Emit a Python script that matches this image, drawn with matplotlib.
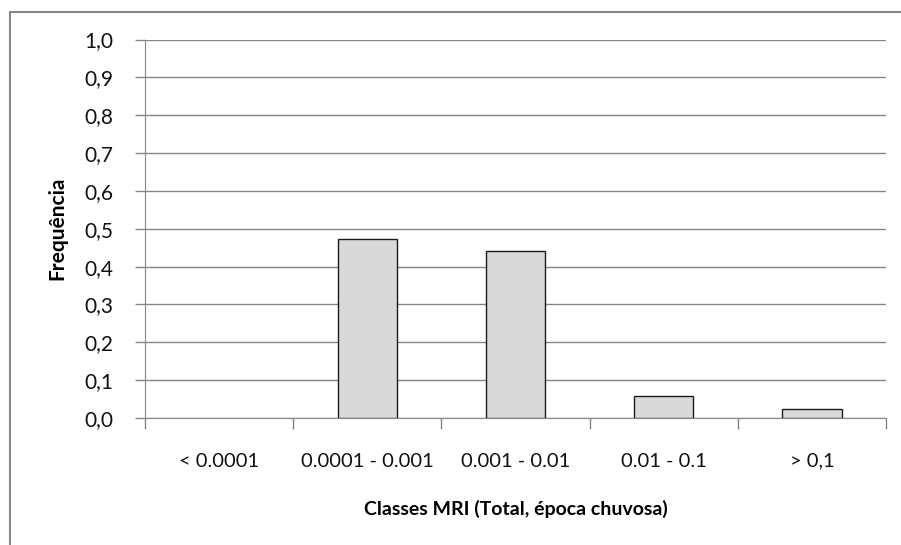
import numpy as np
import matplotlib.pyplot as plt
from matplotlib.patches import Rectangle

# dados
classes = ["< 0.0001", "0.0001 - 0.001", "0.001 - 0.01", "0.01 - 0.1", "> 0,1"]
frequencia = [0.0, 0.472, 0.442, 0.058, 0.025]
y_ticks = [0.0, 0.1, 0.2, 0.3, 0.4, 0.5, 0.6, 0.7, 0.8, 0.9, 1.0]

plt.rcParams['font.family'] = ['Lato', 'DejaVu Sans']

fig = plt.figure(figsize=(9.01, 5.45), dpi=100)
ax = fig.add_axes([145 / 901, 1 - 418 / 545, 741 / 901, 378.5 / 545])

x = np.arange(len(classes))
bordas = ["none" if v == 0 else "#1a1a1a" for v in frequencia]
ax.bar(x, frequencia, width=0.4, color="#d9d9d9", edgecolor=bordas, linewidth=1.0, zorder=3)

ax.set_xlim(-0.5, len(classes) - 0.5)
ax.set_ylim(0, 1.0)
ax.set_yticks(y_ticks)
ax.set_yticklabels([f"{v:.1f}".replace(".", ",") for v in y_ticks], fontsize=15, color="#111111")
ax.yaxis.grid(True, color="#868686", linewidth=1.0, zorder=0)

ax.set_xticks(x)
ax.set_xticklabels(classes, fontsize=14.5, color="#111111")
ax.set_xticks(np.arange(len(classes) + 1) - 0.5, minor=True)
ax.tick_params(axis="x", which="major", length=0, pad=25)
ax.tick_params(axis="x", which="minor", length=8, color="#868686", width=1)
ax.tick_params(axis="y", length=7, color="#868686", width=1, pad=16)

for lado in ["top", "right"]:
    ax.spines[lado].set_visible(False)
ax.spines["left"].set_color("#868686")
ax.spines["bottom"].set_color("#868686")

ax.set_xlabel("Classes MRI (Total, época chuvosa)", fontsize=14, fontweight="bold", labelpad=22)
ax.set_ylabel("Frequência", fontsize=15, fontweight="bold", labelpad=12)

# moldura externa do grafico
fig.patches.append(Rectangle((10 / 901, -0.1), 1.0, 1 - 12 / 545 + 0.1, transform=fig.transFigure,
                             fill=False, edgecolor="#868686", linewidth=1.5))

fig.savefig("out.png", dpi=100)
